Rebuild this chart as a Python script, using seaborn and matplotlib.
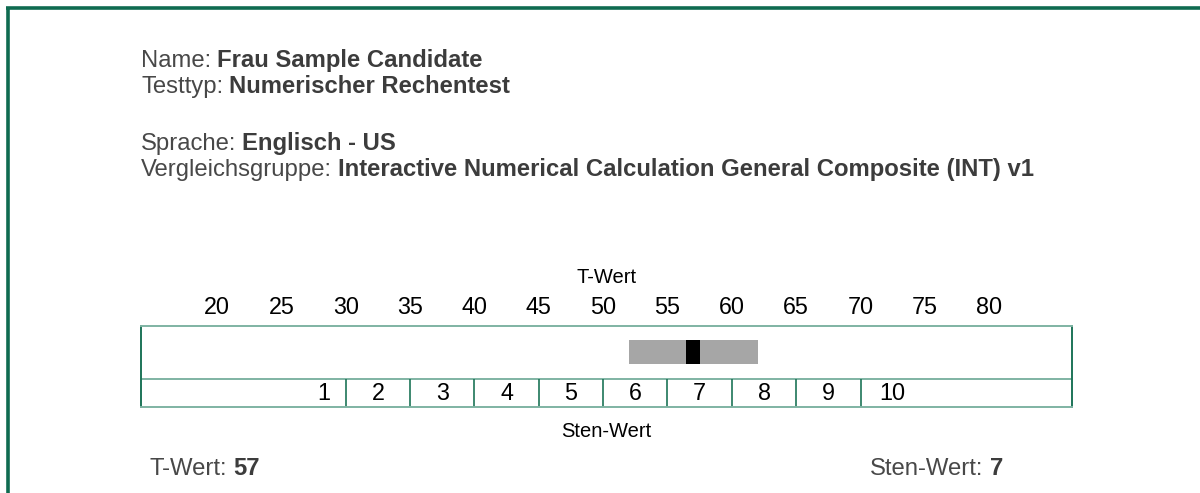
import matplotlib
matplotlib.use("Agg")
import matplotlib.pyplot as plt
from matplotlib.lines import Line2D
from matplotlib.transforms import blended_transform_factory
import seaborn as sns

# ---------------- data ----------------
header_labels = ["Name:", "Testtyp:", "Sprache:", "Vergleichsgruppe:"]
header_values = ["Frau Sample Candidate", "Numerischer Rechentest",
                 "Englisch - US",
                 "Interactive Numerical Calculation General Composite (INT) v1"]
t_ticks = [20, 25, 30, 35, 40, 45, 50, 55, 60, 65, 70, 75, 80]
sten_labels = [1, 2, 3, 4, 5, 6, 7, 8, 9, 10]
sten_bounds = [30, 35, 40, 45, 50, 55, 60, 65, 70]
t_score = 57
t_band = [52, 62]
sten_score = 7
t_axis_title = "T-Wert"
sten_axis_title = "Sten-Wert"

# ---------------- style ----------------
sns.set_theme(style="white")
plt.rcParams["font.family"] = ["Liberation Sans", "DejaVu Sans"]

W, H = 1200, 493
fig = plt.figure(figsize=(W / 100, H / 100), dpi=100)
fig.patch.set_facecolor("white")

border_col = "#0f6b50"
light_line = "#7fb3a3"
dark_line = "#1d7458"
text_grey = "#484848"


def fx(px):
    return px / W


def fy(py):
    return 1 - py / H


# outer frame (left + top)
fig.add_artist(Line2D([fx(7.5), fx(7.5)], [0, fy(7.5)], color=border_col, lw=2.6,
                      transform=fig.transFigure, solid_capstyle="butt"))
fig.add_artist(Line2D([fx(6.2), 1], [fy(7.5), fy(7.5)], color=border_col, lw=2.6,
                      transform=fig.transFigure, solid_capstyle="butt"))

# overlay axes for free text
tx = fig.add_axes([0, 0, 1, 1])
tx.set_xlim(0, W)
tx.set_ylim(H, 0)
tx.axis("off")

HDR = 17.2


def mixed(x, y, a, b, size, col_a=text_grey, col_b="#3c3c3c", ha="left"):
    gap = 4.4
    if ha == "left":
        t = tx.text(x, y, a, fontsize=size, color=col_a, va="baseline", ha="left")
        tx.annotate(b, xy=(1, 0), xycoords=t, xytext=(gap, 0),
                    textcoords="offset points", fontsize=size, color=col_b,
                    fontweight="bold", va="bottom", ha="left")
    else:
        t = tx.text(x, y, b, fontsize=size, color=col_b, va="baseline", ha="right",
                    fontweight="bold")
        tx.annotate(a, xy=(0, 0), xycoords=t, xytext=(-gap, 0),
                    textcoords="offset points", fontsize=size, color=col_a,
                    va="bottom", ha="right")


header_y = [67, 93, 150, 176]
for lab, val, y in zip(header_labels, header_values, header_y):
    mixed(141, y, lab, val, HDR)

mixed(150, 475, "T-Wert:", str(t_score), HDR)
mixed(1003, 475, "Sten-Wert:", str(sten_score), HDR, ha="right")

# ---------------- scale axes ----------------
left_px, right_px, top_px, bot_px = 140.7, 1072.0, 326.0, 407.3
ax = fig.add_axes([fx(left_px), fy(bot_px), (right_px - left_px) / W,
                   (bot_px - top_px) / H])
ax.set_xlim(14.07, 86.43)
ax.set_ylim(0, 1)
ax.set_facecolor("white")
ax.set_yticks([])
ax.set_xticks([])
for s in ["top", "bottom"]:
    ax.spines[s].set_color(light_line)
    ax.spines[s].set_linewidth(1.4)
for s in ["left", "right"]:
    ax.spines[s].set_color(dark_line)
    ax.spines[s].set_linewidth(1.4)


def ay(py):
    return (bot_px - py) / (bot_px - top_px)


mid = ay(378.7)
ax.axhline(mid, color=light_line, lw=1.4)
ax.vlines(sten_bounds, 0, mid, color=dark_line, lw=1.2)

# confidence band and score marker
band_bot, band_top = ay(364.3), ay(340.0)
ax.barh(y=(band_bot + band_top) / 2, width=t_band[1] - t_band[0], left=t_band[0],
        height=band_top - band_bot, color="#a6a6a6", edgecolor="none")
ax.barh(y=(band_bot + band_top) / 2, width=1.15, left=t_score - 0.6,
        height=band_top - band_bot, color="black", edgecolor="none")

trans = blended_transform_factory(ax.transData, ax.transAxes)
for t in t_ticks:
    ax.text(t, ay(313.5), str(t), transform=trans, ha="center", va="baseline",
            fontsize=16.8, color="black", clip_on=False)

# sten labels: centred in each 5-point cell, outer ones beside the first/last bound
sten_pos = ([sten_bounds[0] - 1.7]
            + [(a + b) / 2 for a, b in zip(sten_bounds[:-1], sten_bounds[1:])]
            + [sten_bounds[-1] + 2.5])
for p, s in zip(sten_pos, sten_labels):
    ax.text(p, ay(399.5), str(s), transform=trans, ha="center", va="baseline",
            fontsize=16.8, color="black", clip_on=False)

ax.text(0.5, ay(283), t_axis_title, transform=ax.transAxes, ha="center",
        va="baseline", fontsize=14.5, color="black", clip_on=False)
ax.text(0.5, ay(437), sten_axis_title, transform=ax.transAxes, ha="center",
        va="baseline", fontsize=14.5, color="black", clip_on=False)

fig.savefig("out.png", dpi=100, facecolor="white")
